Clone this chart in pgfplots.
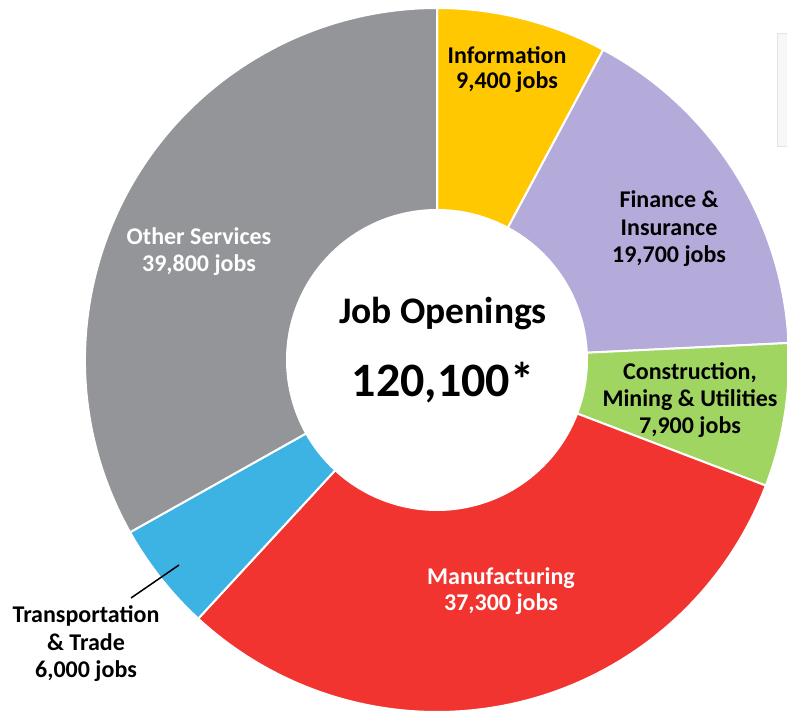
\documentclass[border=0pt]{standalone}
\usepackage{pgfplots}
\pgfplotsset{compat=1.18}
\usepackage{pgfplotstable}
\usepackage{fontspec}
\setmainfont{Carlito}
\definecolor{cInfo}{RGB}{255,200,0}
\definecolor{cFin}{RGB}{181,171,218}
\definecolor{cCon}{RGB}{160,213,98}
\definecolor{cMan}{RGB}{242,52,48}
\definecolor{cTra}{RGB}{60,179,226}
\definecolor{cOth}{RGB}{147,149,152}
\pgfplotstableread{
name val col
Information 9400 cInfo
Finance 19700 cFin
Construction 7900 cCon
Manufacturing 37300 cMan
Transportation 6000 cTra
Other 39800 cOth
}\jobdata
\begin{document}
\begin{tikzpicture}
\begin{axis}[
  scale only axis, width=787pt, height=713pt,
  xmin=0, xmax=787, ymin=0, ymax=713,
  hide axis, clip=true,
]
% legend box remnant
\fill[gray!6, draw=gray!22] (axis cs:777,680) rectangle (axis cs:800,567);
\def\startang{90}
\pgfplotsforeachungrouped \i in {0,...,5}{%
  \pgfplotstablegetelem{\i}{val}\of\jobdata \let\v\pgfplotsretval
  \pgfplotstablegetelem{\i}{col}\of\jobdata \let\c\pgfplotsretval
  \edef\endang{\fpeval{round(\startang-\v/120100*360,4)}}
  \edef\temp{\noexpand\filldraw[fill=\c, draw=white, line width=2pt, line join=round, shift={(axis cs:437,353)}]
    (\startang:150pt) -- (\startang:352pt) arc[start angle=\startang, end angle=\endang, radius=352pt]
    -- (\endang:150pt) arc[start angle=\endang, end angle=\startang, radius=150pt] -- cycle;}
  \temp
  \global\let\startang\endang
}
% labels
\node[align=center, font=\bfseries\fontsize{24}{25.5}\selectfont, inner sep=0pt] at (axis cs:507,643.5) {Information\\9,400 jobs};
\node[align=center, font=\bfseries\fontsize{24}{27.5}\selectfont, inner sep=0pt] at (axis cs:669,484) {Finance \&\\Insurance\\19,700 jobs};
\node[align=center, font=\bfseries\fontsize{24}{27}\selectfont, inner sep=0pt] at (axis cs:690,313) {Construction,\\Mining \& Utilities\\7,900 jobs};
\node[align=center, font=\bfseries\fontsize{24}{26.5}\selectfont, inner sep=0pt, text=white] at (axis cs:501,122) {Manufacturing\\37,300 jobs};
\node[align=center, font=\bfseries\fontsize{24}{27}\selectfont, inner sep=0pt, text=white] at (axis cs:199,461) {Other Services\\39,800 jobs};
\node[align=center, font=\bfseries\fontsize{24}{27.5}\selectfont, inner sep=0pt] at (axis cs:86,69) {Transportation\\\& Trade\\6,000 jobs};
\draw[black, line width=1.5pt] (axis cs:131,115) -- (axis cs:179,148);
\node[font=\bfseries\fontsize{37.5}{40}\selectfont, inner sep=0pt] at (axis cs:443,399) {Job Openings};
\node[font=\bfseries\fontsize{48}{50}\selectfont, inner sep=0pt] at (axis cs:443,330) {120,100*};
\end{axis}
\pgfresetboundingbox
\useasboundingbox (0,0) rectangle (787pt,713pt);
\end{tikzpicture}
\end{document}
